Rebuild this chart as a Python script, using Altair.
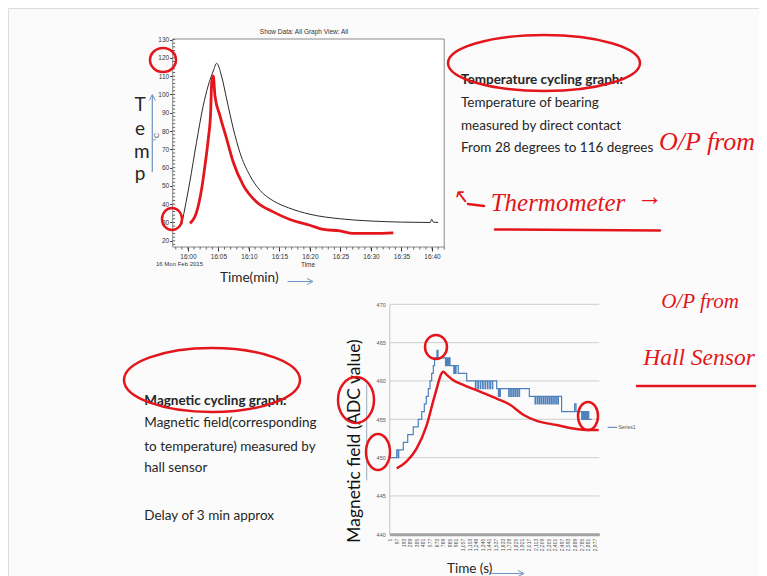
import altair as alt
import pandas as pd

# ------------------------------------------------------------------ data
# Temperature cycling graph, black trace: minutes after 16:00 and temperature (°C)
temp_minutes = [-1.0, 0.3, 1.4, 2.5, 3.3, 4.15, 4.7, 5.5, 6.35, 7.45, 8.5, 10.15,
                11.8, 14.0, 16.5, 20.0, 25.0, 30.0, 35.0, 39.7, 39.95, 40.2, 41.0]
temp_values = [29.2, 52.1, 73.8, 93.8, 104.6, 112.8, 117.0, 110.1, 97.4, 81.1, 68.4, 55.7,
               47.6, 41.8, 38.0, 34.5, 32.0, 30.8, 30.2, 30.0, 31.8, 30.2, 30.0]
# hand-drawn red trace on the temperature graph
temp_red_minutes = [0.33, 1.43, 2.25, 2.79, 3.33, 3.72, 3.89, 4.15, 4.43, 5.25, 6.34, 7.43,
                    9.07, 11.26, 13.98, 16.72, 20.0, 22.18, 24.92, 27.1, 30.38, 33.66]
temp_red_values = [29.5, 35.8, 48.5, 61.1, 75.7, 90.1, 106.4, 110.1, 99.2, 88.3, 75.7, 62.9,
                   50.3, 41.2, 35.8, 31.6, 28.5, 26.2, 25.4, 24.0, 24.0, 24.3]
temp_tick_minutes = [0, 5, 10, 15, 20, 25, 30, 35, 40]
temp_tick_values = [20, 30, 40, 50, 60, 70, 80, 90, 100, 110, 120, 130]
temp_minor_minutes = list(range(-2, 43))
temp_minor_values = list(range(18, 131, 2))

# Magnetic cycling graph, blue step trace: sample index (s) and ADC value
mag_time = [1, 99, 120, 128, 195, 259, 340, 413, 463, 501, 530, 559, 584, 608, 632, 650, 685, 700,
            810, 818, 835, 843, 858, 866, 875,
            930, 938, 955, 963, 995, 1118,
            1245, 1253, 1280, 1288, 1315, 1323, 1350, 1358, 1385, 1393, 1420, 1428, 1455, 1463, 1490, 1498,
            1555, 1580, 1588, 1600, 1608, 1730, 1738, 1760, 1768, 1790, 1798, 1820, 1828, 1850, 1858,
            1880, 1888,
            2030, 2113, 2121, 2145, 2153, 2175, 2183, 2205, 2213, 2235, 2243, 2265, 2273, 2295, 2303,
            2325, 2333, 2355, 2363, 2385, 2393, 2415, 2423, 2445, 2453,
            2500, 2690, 2710, 2793, 2810, 2820, 2835, 2845, 2860, 2870, 2885, 2895, 2938]
mag_adc = [450, 451, 450, 451, 452, 453, 454, 455, 456, 457, 458, 459, 460, 461, 462, 463, 464, 463,
           462, 463, 462, 463, 462, 463, 462,
           461, 462, 461, 462, 461, 460,
           459, 460, 459, 460, 459, 460, 459, 460, 459, 460, 459, 460, 459, 460, 459, 460,
           459, 458, 459, 458, 459, 458, 459, 458, 459, 458, 459, 458, 459, 458, 459,
           458, 459,
           458, 457, 458, 457, 458, 457, 458, 457, 458, 457, 458, 457, 458, 457, 458,
           457, 458, 457, 458, 457, 458, 457, 458, 457, 458,
           456, 457, 456, 455, 456, 455, 456, 455, 456, 455, 456, 455, 455]
# hand-drawn red trace on the magnetic graph
mag_red_time = [99, 244, 390, 536, 656, 777, 827, 923, 1069, 1312, 1555, 1749, 1942, 2138,
                2429, 2671, 2914, 3040]
mag_red_adc = [448.6, 449.5, 451.2, 454.25, 458.2, 461.2, 460.8, 460.1, 459.5, 458.6, 457.7,
               456.9, 455.6, 454.8, 454.25, 453.8, 453.6, 453.6]
mag_tick_time = list(range(1, 2978, 96))
mag_tick_adc = [440, 445, 450, 455, 460, 465, 470]
mag_grid_adc = [445, 450, 455, 460, 465, 470]

# slide texts
temp_heading = "Temperature cycling graph:"
temp_lines = ["Temperature of bearing", "measured by direct contact", "From 28 degrees to 116 degrees"]
mag_heading = "Magnetic cycling graph:"
mag_lines = ["Magnetic field(corresponding", "to temperature) measured by", "hall sensor", "Delay of 3 min approx"]

# ------------------------------------------------------------------ style / layout
RED = "#e3161c"
BLUE = "#4f81bd"
ARROW = "#6d93c2"
TXT = "#262626"
BODY_FONT = "Lato"
CHART_FONT = "Liberation Sans Narrow, Liberation Sans, Arial, sans-serif"
HAND_FONT = "Liberation Serif"
BODY_FS = 13.5

W, H = 751, 568


def c(v):
    return v - 8  # page pixel -> canvas pixel


T_XDOM = [-2.5, 42.0]
T_XRNG = [c(172.7), c(444.2)]
T_YDOM = [16.6, 130.3]
T_YRNG = [c(247.0), c(39.0)]

M_XDOM = [-9, 3049]
M_XRNG = [c(389.3), c(599.3)]
M_YDOM = [440, 470]
M_YRNG = [c(534.3), c(304.3)]

t_xaxis = alt.Axis(orient="bottom", offset=c(247.0) - H, values=temp_tick_minutes,
                   labelExpr="'16:' + (datum.value < 10 ? '0' : '') + datum.value",
                   grid=False, domain=False, tickSize=4, tickColor="#333", labelFontSize=6.5,
                   labelColor="#333", labelFont=CHART_FONT, labelPadding=2, title=None)
t_yaxis = alt.Axis(orient="left", offset=-c(172.7), values=temp_tick_values, grid=False,
                   domain=False, tickSize=3, tickColor="#333", labelFontSize=6.5,
                   labelColor="#333", labelFont=CHART_FONT, labelPadding=1, title=None)
m_xaxis = alt.Axis(orient="bottom", offset=c(534.3) - H, values=mag_tick_time, grid=False,
                   domain=True, domainColor="#a3a3a3", domainWidth=3, ticks=False,
                   labelAngle=270, labelFontSize=5, labelColor="#555", labelFont=CHART_FONT,
                   labelPadding=4, labelOverlap=False, title=None)
m_yaxis = alt.Axis(orient="left", offset=-c(389.3), values=mag_tick_adc, grid=False,
                   domain=True, domainColor="#c4c4c4", ticks=False, labelFontSize=5.5,
                   labelColor="#555", labelFont=CHART_FONT, labelPadding=4, title=None)


def tx(f):
    return alt.X(f, type="quantitative", axis=t_xaxis,
                 scale=alt.Scale(domain=T_XDOM, range=T_XRNG, nice=False, zero=False))


def ty(f):
    return alt.Y(f, type="quantitative", axis=t_yaxis,
                 scale=alt.Scale(domain=T_YDOM, range=T_YRNG, nice=False, zero=False))


def mx(f):
    return alt.X(f, type="quantitative", axis=m_xaxis,
                 scale=alt.Scale(domain=M_XDOM, range=M_XRNG, nice=False, zero=False))


def my(f):
    return alt.Y(f, type="quantitative", axis=m_yaxis,
                 scale=alt.Scale(domain=M_YDOM, range=M_YRNG, nice=False, zero=False))


# ------------------------------------------------------------------ temperature graph
frame_df = pd.DataFrame({"x0": [T_XDOM[0]], "x1": [T_XDOM[1]], "y0": [T_YDOM[0]], "y1": [T_YDOM[1]]})
frame = alt.Chart(frame_df).mark_rect(fill="white", stroke="#8a8a8a", strokeWidth=1).encode(
    x=tx("x0"), x2="x1", y=ty("y0"), y2="y1")
xminor = alt.Chart(pd.DataFrame({"t": temp_minor_minutes})).mark_rule(color="#444", strokeWidth=0.8).encode(
    x=tx("t"), y=alt.value(c(247.0)), y2=alt.value(c(249.5)))
yminor = alt.Chart(pd.DataFrame({"v": temp_minor_values})).mark_rule(color="#444", strokeWidth=0.8).encode(
    y=ty("v"), x=alt.value(c(172.7)), x2=alt.value(c(175.2)))
black = alt.Chart(pd.DataFrame({"t": temp_minutes, "v": temp_values})).mark_line(
    color="#2b2b2b", strokeWidth=1, interpolate="monotone").encode(x=tx("t"), y=ty("v"))
red_t = alt.Chart(pd.DataFrame({"t": temp_red_minutes, "v": temp_red_values})).mark_line(
    color=RED, strokeWidth=2.8, interpolate="monotone").encode(x=tx("t"), y=ty("v"))
temp_layer = alt.layer(frame, xminor, yminor, black, red_t)

# ------------------------------------------------------------------ magnetic graph
grid = alt.Chart(pd.DataFrame({"g": mag_grid_adc, "x0": M_XDOM[0], "x1": M_XDOM[1]})).mark_rule(
    color="#cfcfcf", strokeWidth=1).encode(x=mx("x0"), x2="x1", y=my("g"))
blue = alt.Chart(pd.DataFrame({"s": mag_time, "a": mag_adc})).mark_line(
    color=BLUE, strokeWidth=1.2, interpolate="step-after").encode(x=mx("s"), y=my("a"))
red_m = alt.Chart(pd.DataFrame({"s": mag_red_time, "a": mag_red_adc})).mark_line(
    color=RED, strokeWidth=2.5, interpolate="monotone").encode(x=mx("s"), y=my("a"))
mag_layer = alt.layer(grid, blue, red_m)


# ------------------------------------------------------------------ slide annotations (pixel layers)
def text_layer(rows, font, color, weight="normal", align="left", angle=0, style="normal"):
    df = pd.DataFrame(rows, columns=["px", "py", "s", "fs"])
    df["px"] = df["px"] - 8
    df["py"] = df["py"] - 8
    return alt.Chart(df).mark_text(font=font, color=color, fontWeight=weight, align=align,
                                   baseline="middle", angle=angle, fontStyle=style).encode(
        x=alt.X("px:Q", scale=None, axis=None), y=alt.Y("py:Q", scale=None, axis=None),
        text="s:N", size=alt.Size("fs:Q", scale=None, legend=None))


def rule_layer(rows, color, width):
    df = pd.DataFrame(rows, columns=["x0", "y0", "x1", "y1"]) - 8
    return alt.Chart(df).mark_rule(color=color, strokeWidth=width, strokeCap="round").encode(
        x=alt.X("x0:Q", scale=None, axis=None), y=alt.Y("y0:Q", scale=None, axis=None),
        x2="x1:Q", y2="y1:Q")


def ellipse_path(r):
    k = 0.5523
    return (f"M1,0C1,{k*r:.3f} {k:.3f},{r:.3f} 0,{r:.3f}C{-k:.3f},{r:.3f} -1,{k*r:.3f} -1,0"
            f"C-1,{-k*r:.3f} {-k:.3f},{-r:.3f} 0,{-r:.3f}C{k:.3f},{-r:.3f} 1,{-k*r:.3f} 1,0Z")


def shape_layer(rows, color, width):
    # rows: centre x, centre y, half width, half height
    recs = [{"px": x - 8, "py": y - 8, "path": ellipse_path(ry / rx), "sz": 4 * rx * rx}
            for x, y, rx, ry in rows]
    return alt.Chart(pd.DataFrame(recs)).mark_point(filled=False, color=color, strokeWidth=width,
                                                   opacity=1).encode(
        x=alt.X("px:Q", scale=None, axis=None), y=alt.Y("py:Q", scale=None, axis=None),
        shape=alt.Shape("path:N", scale=None, legend=None),
        size=alt.Size("sz:Q", scale=None, legend=None))


def head_layer(rows, path, color):
    recs = [{"px": x - 8, "py": y - 8} for x, y in rows]
    return alt.Chart(pd.DataFrame(recs)).mark_point(shape=path, filled=False, color=color,
                                                   strokeWidth=1, size=36, opacity=1).encode(
        x=alt.X("px:Q", scale=None, axis=None), y=alt.Y("py:Q", scale=None, axis=None))


body_rows = [(461, 103.3, temp_lines[0], BODY_FS), (461, 125.7, temp_lines[1], BODY_FS),
             (461, 148.3, temp_lines[2], BODY_FS),
             (144.3, 423.3, mag_lines[0], BODY_FS), (144.3, 446.7, mag_lines[1], BODY_FS),
             (144.3, 468.3, mag_lines[2], BODY_FS), (144.3, 516.0, mag_lines[3], BODY_FS),
             (220, 278, "Time(min)", 13.6), (447, 569, "Time (s)", 13.5)]
bold_rows = [(461, 80, temp_heading, BODY_FS), (144.3, 401, mag_heading, BODY_FS)]
letter_rows = [(140, 105, "T", 19), (140, 129, "e", 19), (141.7, 152, "m", 19), (140, 174, "p", 19)]
small_rows = [(304, 31.7, "Show Data: All   Graph View: All", 6.5), (179.5, 263.5, "16 Mon Feb 2015", 6),
              (308, 265, "Time", 6.5)]
legend_rows = [(618.5, 427.3, "Series1", 5)]
rot_rows = [(156.7, 137, "°C", 7)]
rot_big_rows = [(355, 441, "Magnetic field (ADC value)", 17.4)]
hand_rows = [(707, 142, "O/P from", 26), (558, 203, "Thermometer", 25), (650, 197, "→", 26),
             (460, 197, "↖", 20), (700, 302, "O/P from", 21), (699, 358, "Hall Sensor", 23.5)]

red_rules = [(495, 229.5, 660, 230.5), (637, 386, 755, 386), (468, 204, 484, 206)]
blue_rules = [(152.3, 171.7, 152.3, 96), (288, 281.5, 311, 281.5), (492, 573.5, 522, 573.5),
              (608, 427.3, 617, 427.3)]
gray_rules = [(366.7, 385, 366.7, 480)]
ellipses = [(544, 63, 96, 28), (212, 380, 88, 32), (163, 60, 13, 12), (172, 219, 10, 11),
            (436, 347, 11, 12), (356, 400, 18, 23), (378, 452, 12, 18), (588, 416, 10, 14)]

layers = [
    temp_layer,
    mag_layer,
    text_layer(body_rows, BODY_FONT, TXT),
    text_layer(bold_rows, BODY_FONT, TXT, weight="bold"),
    text_layer(letter_rows, BODY_FONT, TXT, align="center"),
    text_layer(small_rows, CHART_FONT, "#333", align="center"),
    text_layer(legend_rows, CHART_FONT, "#555"),
    text_layer(rot_rows, CHART_FONT, "#555", align="center", angle=270),
    text_layer(rot_big_rows, BODY_FONT, "#111", align="center", angle=270),
    rule_layer(blue_rules, ARROW, 1.2),
    rule_layer(gray_rules, "#9aaabb", 1),
    head_layer([(152.3, 97.5)], "M-1,1L0,-1L1,1", ARROW),
    head_layer([(310, 281.5), (521, 573.5)], "M-1,-1L1,0L-1,1", ARROW),
    rule_layer(red_rules, RED, 2.5),
    shape_layer(ellipses, RED, 2.5),
    text_layer(hand_rows, HAND_FONT, RED, align="center", style="italic"),
]

chart = alt.layer(*layers).resolve_scale(x="independent", y="independent").properties(
    width=W, height=H, padding=0, autosize=alt.AutoSizeParams(type="none")
).configure_view(strokeWidth=0).configure(background="#fbfbfb")

chart.save("out.html", embed_options={"renderer": "svg", "actions": False})
